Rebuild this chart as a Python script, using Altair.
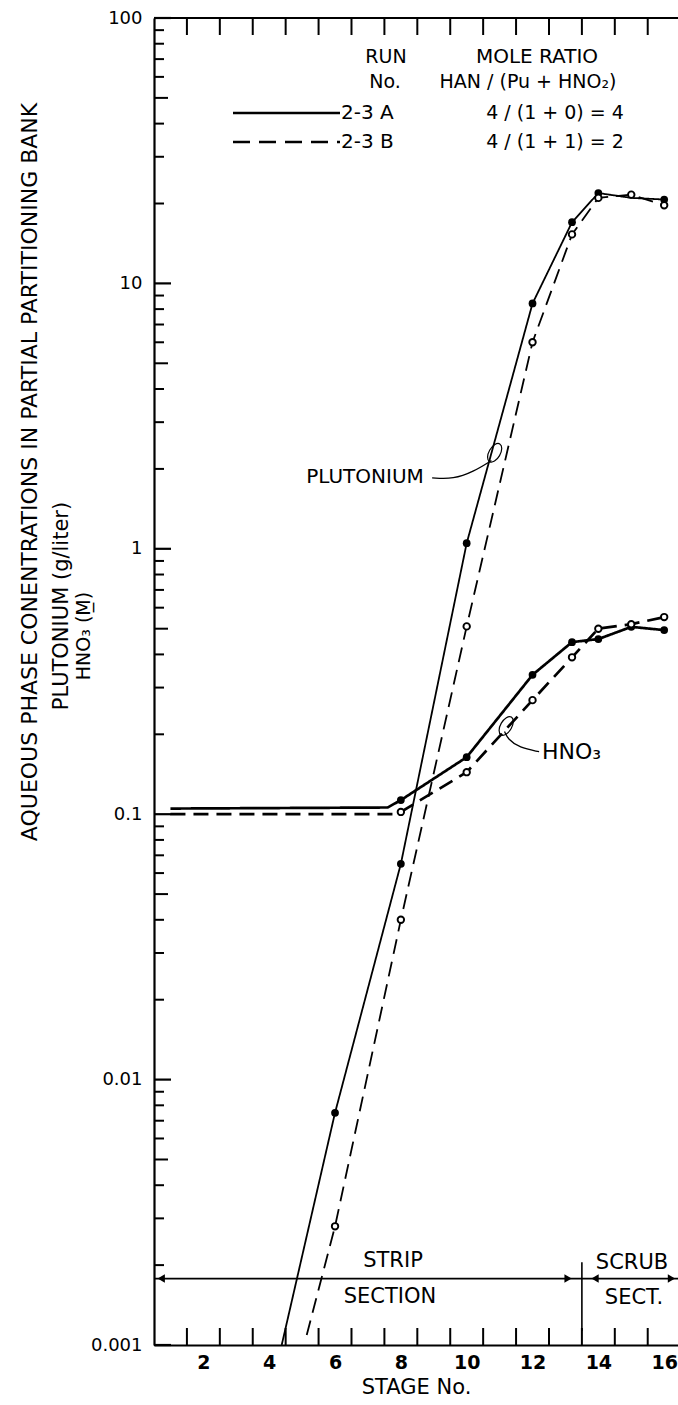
import altair as alt
import pandas as pd

# ---------------- data ----------------
# Plutonium, run 2-3 A (solid line, filled dots)
pu_a_stage = [4.38, 6, 8, 10, 12, 13.2, 14, 15, 16]
pu_a_value = [0.001, 0.0075, 0.065, 1.05, 8.4, 17.0, 21.9, 21.0, 20.7]
pu_a_mark = [False, True, True, True, True, True, True, False, True]

# Plutonium, run 2-3 B (dashed line, open dots)
pu_b_stage = [5.14, 6, 8, 10, 12, 13.2, 14, 15, 16]
pu_b_value = [0.00109, 0.0028, 0.040, 0.51, 6.0, 15.3, 21.0, 21.6, 19.7]
pu_b_mark = [False, True, True, True, True, True, True, True, True]

# HNO3, run 2-3 A
hn_a_stage = [1, 7.6, 8, 10, 12, 13.2, 14, 15, 16]
hn_a_value = [0.105, 0.106, 0.113, 0.164, 0.335, 0.445, 0.457, 0.508, 0.494]
hn_a_mark = [False, False, True, True, True, True, True, True, True]

# HNO3, run 2-3 B
hn_b_stage = [1, 7.8, 8, 10, 12, 13.2, 14, 15, 16]
hn_b_value = [0.100, 0.100, 0.102, 0.144, 0.269, 0.390, 0.500, 0.520, 0.553]
hn_b_mark = [False, False, True, True, True, True, True, True, True]

x_labels = [2, 4, 6, 8, 10, 12, 14, 16]
stage_bounds = [1.5, 2.5, 3.5, 4.5, 5.5, 6.5, 7.5, 8.5, 9.5, 10.5, 11.5, 12.5, 13.5, 14.5, 15.5]
decades = [0.001, 0.01, 0.1, 1, 10, 100]
minor_mult = [2, 3, 4, 6, 7, 8, 9]
mid_mult = [5]

# ---------------- build tables ----------------
rows = []
for name, sub, run, st, va, mk in [
    ("Pu A", "pu", "A", pu_a_stage, pu_a_value, pu_a_mark),
    ("Pu B", "pu", "B", pu_b_stage, pu_b_value, pu_b_mark),
    ("HNO3 A", "hn", "A", hn_a_stage, hn_a_value, hn_a_mark),
    ("HNO3 B", "hn", "B", hn_b_stage, hn_b_value, hn_b_mark),
]:
    for s, v, m in zip(st, va, mk):
        rows.append({"series": name, "kind": sub, "run": run, "stage": s, "value": v, "mark": m})
df = pd.DataFrame(rows)

W, H = 524, 1327
FONT = "DejaVu Sans"

xscale = alt.Scale(domain=[0.5, 16.42], nice=False, zero=False)
yscale = alt.Scale(type="log", domain=[0.001, 100], nice=False)

X = alt.X("stage:Q", scale=xscale,
          axis=alt.Axis(values=x_labels, ticks=False, grid=False, domainColor="black",
                        domainWidth=2.2, labelFontSize=19, labelFontWeight="bold",
                        labelColor="black", labelFont=FONT, labelPadding=8,
                        title="STAGE No.", titleFontSize=21, titleFont=FONT,
                        titleFontWeight="normal", titleColor="black", titlePadding=4))
Y = alt.Y("value:Q", scale=yscale,
          axis=alt.Axis(values=decades, ticks=False, grid=False, domainColor="black",
                        domainWidth=2.2, labelFontSize=18, labelColor="black", labelFont=FONT,
                        labelPadding=12,
                        labelExpr="datum.value < 1 ? format(datum.value, '.3~f') : format(datum.value, 'd')",
                        title=None))

dash = alt.StrokeDash("run:N", scale=alt.Scale(domain=["A", "B"], range=[[1, 0], [15, 8]]), legend=None)

base = alt.Chart(df)
pu_lines = base.transform_filter("datum.kind == 'pu'").mark_line(color="black", strokeWidth=1.8).encode(
    x=X, y=Y, detail="series:N", strokeDash=dash, order="stage:Q")
hn_lines = base.transform_filter("datum.kind == 'hn'").mark_line(color="black", strokeWidth=2.7).encode(
    x="stage:Q", y="value:Q", detail="series:N", strokeDash=dash, order="stage:Q")
pts_a = base.transform_filter("datum.mark && datum.run == 'A'").mark_point(
    shape="circle", filled=True, color="black", size=60, opacity=1).encode(x="stage:Q", y="value:Q")
pts_b = base.transform_filter("datum.mark && datum.run == 'B'").mark_point(
    shape="circle", fill="white", stroke="black", strokeWidth=1.9, size=42, opacity=1, fillOpacity=1).encode(
    x="stage:Q", y="value:Q")

# ---------------- frame ticks ----------------
minor_vals = [m * d for d in decades[:-1] for m in minor_mult]
mid_vals = [m * d for d in decades[:-1] for m in mid_mult]
tick_df = lambda vals: pd.DataFrame({"v": vals})
ytick_major = alt.Chart(tick_df(decades)).mark_rule(color="black", strokeWidth=2.2).encode(
    y="v:Q", x=alt.value(0), x2=alt.value(17))
ytick_mid = alt.Chart(tick_df(mid_vals)).mark_rule(color="black", strokeWidth=2).encode(
    y="v:Q", x=alt.value(0), x2=alt.value(14))
ytick_minor = alt.Chart(tick_df(minor_vals)).mark_rule(color="black", strokeWidth=2).encode(
    y="v:Q", x=alt.value(0), x2=alt.value(10))
xtick_bot = alt.Chart(tick_df(stage_bounds)).mark_rule(color="black", strokeWidth=2).encode(
    x="v:Q", y=alt.value(H), y2=alt.value(H - 17))
xtick_top = alt.Chart(tick_df(stage_bounds)).mark_rule(color="black", strokeWidth=2).encode(
    x="v:Q", y=alt.value(0), y2=alt.value(17))
top_line = alt.Chart(tick_df([0])).mark_rule(color="black", strokeWidth=2.2).encode(
    x=alt.value(0), x2=alt.value(W), y=alt.value(0))

# ---------------- section arrows ----------------
sec_y = 0.00178
sec_line = alt.Chart(pd.DataFrame({"x": [0.5], "x2": [16.42], "y": [sec_y]})).mark_rule(
    color="black", strokeWidth=1.8).encode(x="x:Q", x2="x2:Q", y="y:Q")
div_line = alt.Chart(pd.DataFrame({"x": [13.5], "y": [0.00205], "y2": [0.00113]})).mark_rule(
    color="black", strokeWidth=1.6).encode(x="x:Q", y="y:Q", y2="y2:Q")
arr_r = alt.Chart(pd.DataFrame({"x": [13.08, 16.22], "y": [sec_y, sec_y]})).mark_point(
    shape="triangle-right", filled=True, color="black", size=70, opacity=1).encode(x="x:Q", y="y:Q")
arr_l = alt.Chart(pd.DataFrame({"x": [0.72, 13.9], "y": [sec_y, sec_y]})).mark_point(
    shape="triangle-left", filled=True, color="black", size=70, opacity=1).encode(x="x:Q", y="y:Q")

def txt(s, x, y, size=17, align="center", angle=0, weight="normal", baseline="middle"):
    return alt.Chart(pd.DataFrame({"t": [s]})).mark_text(
        font=FONT, fontSize=size, align=align, baseline=baseline, angle=angle,
        fontWeight=weight, color="black").encode(x=alt.value(x), y=alt.value(y), text="t:N")

ox, oy = 154, 18  # page offset of the plot origin
texts = [
    txt("STRIP", 393 - ox, 1261 - oy, 21),
    txt("SECTION", 390 - ox, 1297 - oy, 21),
    txt("SCRUB", 632 - ox, 1263 - oy, 21),
    txt("SECT.", 634 - ox, 1298 - oy, 21),
    txt("RUN", 386 - ox, 57 - oy, 19),
    txt("No.", 385 - ox, 82 - oy, 19),
    txt("MOLE RATIO", 537 - ox, 57 - oy, 20),
    txt("HAN / (Pu + HNO\u2082)", 528 - ox, 82 - oy, 19),
    txt("2-3 A", 341 - ox, 113 - oy, 20, align="left"),
    txt("2-3 B", 341 - ox, 142 - oy, 20, align="left"),
    txt("4 / (1 + 0) = 4", 555 - ox, 113 - oy, 19),
    txt("4 / (1 + 1) = 2", 555 - ox, 142 - oy, 19),
    txt("PLUTONIUM", 365 - ox, 477 - oy, 20),
    txt("HNO\u2083", 542 - ox, 752 - oy, 22, align="left"),
    txt("AQUEOUS PHASE CONENTRATIONS IN PARTIAL PARTITIONING BANK", 30 - ox, 472 - oy, 22, angle=270),
    txt("PLUTONIUM (g/liter)", 62 - ox, 606 - oy, 21, angle=270),
    txt("HNO\u2083 (M\u0332)", 84 - ox, 636 - oy, 19, angle=270),
]

leg_solid = alt.Chart(pd.DataFrame({"a": [0]})).mark_rule(color="black", strokeWidth=2.4).encode(
    x=alt.value(233 - ox), x2=alt.value(340 - ox), y=alt.value(113 - oy))
leg_dash = alt.Chart(pd.DataFrame({"a": [0]})).mark_rule(color="black", strokeWidth=2.6, strokeDash=[17, 9]).encode(
    x=alt.value(233 - ox), x2=alt.value(340 - ox), y=alt.value(142 - oy))

# leader curves
pu_lead = alt.Chart(pd.DataFrame({"stage": [8.95, 9.6, 10.2, 10.75], "value": [1.85, 1.83, 1.95, 2.15], "o": [0, 1, 2, 3]})).mark_line(
    color="black", strokeWidth=1.3, interpolate="basis").encode(x="stage:Q", y="value:Q", order="o:Q")
hn_lead = alt.Chart(pd.DataFrame({"stage": [12.2, 11.6, 11.25, 11.15], "value": [0.172, 0.178, 0.192, 0.205], "o": [0, 1, 2, 3]})).mark_line(
    color="black", strokeWidth=1.3, interpolate="basis").encode(x="stage:Q", y="value:Q", order="o:Q")
ellipse = "M -1 0 A 1 0.55 0 1 0 1 0 A 1 0.55 0 1 0 -1 0 Z"
loops = alt.Chart(pd.DataFrame({"stage": [10.85, 11.2], "value": [2.3, 0.215]})).mark_point(
    shape=ellipse, filled=False, color="black", strokeWidth=1.2, size=420, opacity=1, angle=300).encode(
    x="stage:Q", y="value:Q")

chart = alt.layer(
    pu_lines, hn_lines, pts_a, pts_b,
    ytick_major, ytick_mid, ytick_minor, xtick_bot, xtick_top, top_line,
    sec_line, div_line, arr_r, arr_l, leg_solid, leg_dash, pu_lead, hn_lead, loops,
    *texts,
).properties(
    width=W, height=H,
    padding={"left": ox, "top": oy, "right": 0, "bottom": 60},
    autosize=alt.AutoSizeParams(type="none"),
    background="white",
).configure_view(stroke=None)

chart.save("out.html", embed_options={"renderer": "svg", "actions": False})
